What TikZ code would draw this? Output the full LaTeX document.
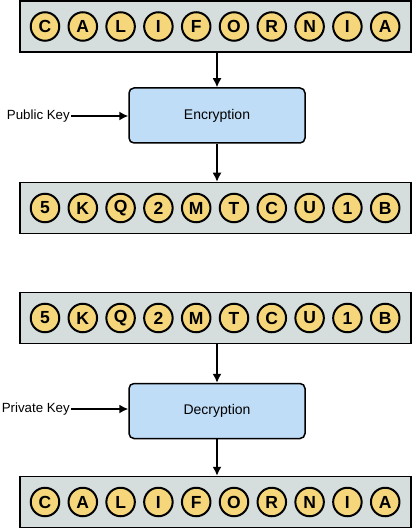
\documentclass[tikz,border=0pt]{standalone}
\usepackage{fontspec}
\setmainfont{Liberation Sans}
\usetikzlibrary{arrows.meta}
\definecolor{stripfill}{RGB}{213,222,220}
\definecolor{letterfill}{RGB}{245,214,122}
\definecolor{boxfill}{RGB}{191,221,247}
\begin{document}
\begin{tikzpicture}[x=1pt,y=-1pt]
        \tikzstyle{strip}=[draw, line width=1.5pt, fill=stripfill, minimum width=391pt, minimum height=51pt, inner sep=0pt];
        \tikzstyle{letter}=[circle, draw, line width=2pt, fill=letterfill, minimum size=28.5pt, inner sep=0pt, font=\fontsize{17.5}{17.5}\selectfont\bfseries];
        \tikzstyle{crypt}=[draw, line width=1.5pt, rounded corners=5pt, fill=boxfill, minimum width=176pt, minimum height=55pt, font=\fontsize{14}{16}\selectfont];
        \tikzstyle{key}=[font=\fontsize{13.3}{16}\selectfont, anchor=east, inner sep=1pt];
        \tikzstyle{flow}=[line width=1.5pt, -{Latex[length=9pt,width=9pt]}];
        \useasboundingbox (0,0) rectangle (414,529);
        \node (plain) [strip] at (215.5,26.5) {};
        \node (cipher) [strip] at (215.5,208) {};
        \node (cipherin) [strip] at (215.5,318) {};
        \node (plainout) [strip] at (215.5,502) {};
        \foreach \ch [count=\i] in {C,A,L,I,F,O,R,N,I,A} {
            \node (p\i) [letter] at (45+37.8*\i-37.8,26.5) {\ch};
            \node (q\i) [letter] at (45+37.8*\i-37.8,502) {\ch};
        }
        \foreach \ch [count=\i] in {5,K,Q,2,M,T,C,U,1,B} {
            \node (c\i) [letter] at (45+37.8*\i-37.8,208) {\ch};
            \node (d\i) [letter] at (45+37.8*\i-37.8,318) {\ch};
        }
        \node (enc) [crypt] at (217,115.5) {Encryption};
        \node (dec) [crypt] at (217,411) {Decryption};
        \node (pub) [key] at (71,116) {Public Key};
        \node (priv) [key] at (71,409) {Private Key};
        \draw[flow] (pub) -- (enc.west |- pub);
        \draw[flow] (priv) -- (dec.west |- priv);
        \draw[flow] (plain.south -| enc) -- (enc);
        \draw[flow] (enc) -- (cipher.north -| enc);
        \draw[flow] (cipherin.south -| dec) -- (dec);
        \draw[flow] (dec) -- (plainout.north -| dec);
    \end{tikzpicture}
\end{document}
